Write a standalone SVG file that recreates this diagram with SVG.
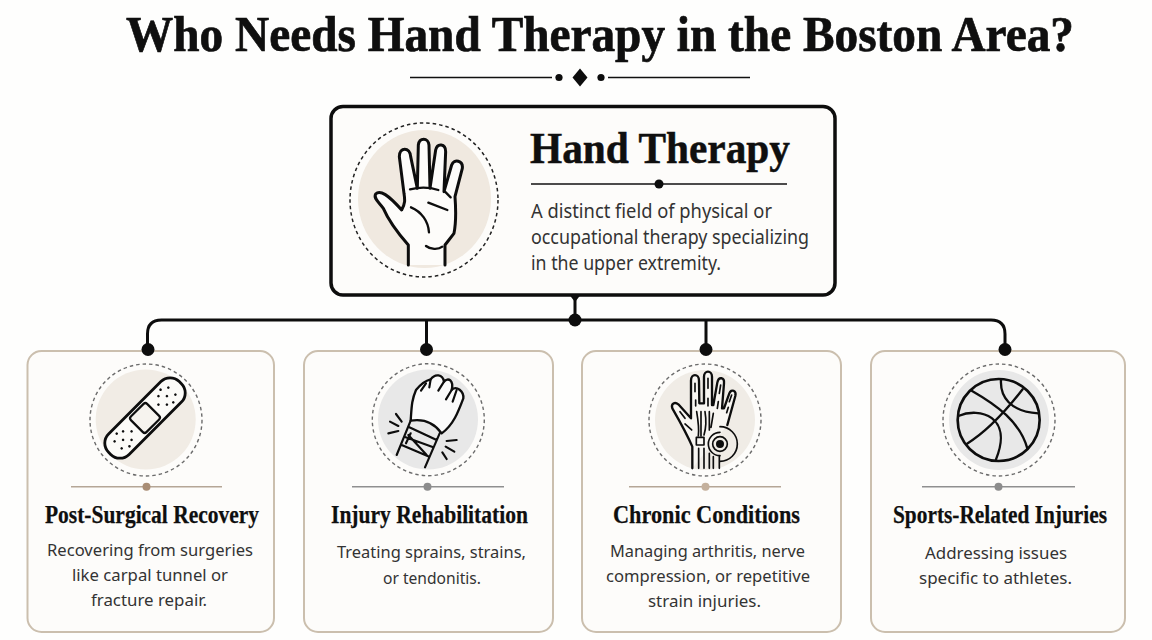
<svg xmlns="http://www.w3.org/2000/svg" width="1152" height="640" viewBox="0 0 1152 640">
<style>
.serif{font-family:"Liberation Serif","Times New Roman",serif;font-weight:700;fill:#0f0f0f}
.ct{font-size:25px;stroke:#0f0f0f;stroke-width:.25}
.body{font-family:"Noto Sans","Open Sans",sans-serif;fill:#333}
.b{font-size:17px}
.card{fill:#fdfcfa;stroke:#cbbfae;stroke-width:2}
.dash{fill:none;stroke:#6b6b6b;stroke-width:1.4;stroke-dasharray:3.5 3}
.ink{fill:none;stroke:#0d0d0d;stroke-linecap:round;stroke-linejoin:round}
.conn{fill:none;stroke:#0d0d0d;stroke-width:3}
.dot{fill:#0d0d0d}
.rule{stroke:#b5a696;stroke-width:1.6}
.rule2{stroke:#8f8f8f;stroke-width:1.6}
</style>
<rect width="1152" height="640" fill="#fefefd"/>
<g id="title">
<text class="serif" x="126" y="51" font-size="50" stroke="#0f0f0f" stroke-width=".7" textLength="948" lengthAdjust="spacingAndGlyphs">Who Needs Hand Therapy in the Boston Area?</text>
<path d="M410 77.500H552M608 77.500H750" stroke="#111" stroke-width="1.600"/>
<circle class="dot" cx="559" cy="77.500" r="3.600"/><circle class="dot" cx="601" cy="77.500" r="3.600"/>
<path class="dot" d="M580 68.500L587.500 77.500L580 86.500L572.500 77.500Z"/>
</g>
<g id="node-hand-therapy">
<rect x="331" y="106.500" width="504" height="188.500" rx="12" fill="#fdfcfa" stroke="#0d0d0d" stroke-width="3.500"/>
<ellipse cx="424.500" cy="199" rx="66.500" ry="69" fill="#f0e9e0"/>
<ellipse cx="424" cy="200" rx="74" ry="77" fill="none" stroke="#222" stroke-width="1.500" stroke-dasharray="3.500 3"/>
<g transform="translate(330 100) scale(.3333)">
<path d="M235 495V435C200 395 175 360 160 325C145 305 130 295 137 282C150 268 175 285 215 330C226 310 225 300 222 280L208 170C208 140 240 140 242 170L262 265L265 135C268 112 295 112 297 135L300 265L317 150C322 128 347 130 347 155L342 275L365 195C372 175 400 182 397 205L375 290C378 330 378 370 372 400L345 435V495" fill="#fdfcfa" stroke="#0d0d0d" stroke-width="9" stroke-linejoin="round" stroke-linecap="round"/>
<path class="ink" stroke-width="7" d="M240 268C265 262 300 262 325 270M345 275L362 292M295 308L352 330M243 322C275 335 295 365 297 397M288 438C300 448 325 450 337 440"/>
</g>
<text class="serif" x="530" y="163" font-size="44" stroke="#0f0f0f" stroke-width=".5" textLength="260" lengthAdjust="spacingAndGlyphs">Hand Therapy</text>
<path d="M531 184H787" stroke="#111" stroke-width="1.600"/>
<circle class="dot" cx="659" cy="184" r="4.500"/>
<text class="body" x="531" y="218" font-size="19" textLength="241" lengthAdjust="spacingAndGlyphs">A distinct field of physical or</text>
<text class="body" x="531" y="244" font-size="19" textLength="278" lengthAdjust="spacingAndGlyphs">occupational therapy specializing</text>
<text class="body" x="531" y="270" font-size="19" textLength="190" lengthAdjust="spacingAndGlyphs">in the upper extremity.</text>
</g>
<g id="node-post-surgical">
<rect class="card" x="27.500" y="351" width="246.500" height="281" rx="14"/>
<circle cx="145.700" cy="419.500" r="50" fill="#f1ece5"/>
<circle class="dash" cx="146" cy="420" r="56"/>
<g transform="translate(145 418) rotate(-45)">
<rect x="-50" y="-14.500" width="100" height="29" rx="13" fill="#fcfbf8" stroke="#0d0d0d" stroke-width="2.800"/>
<rect x="-11.500" y="-11" width="23" height="22" rx="2.500" fill="#f6f3ee" stroke="#0d0d0d" stroke-width="2.200"/>
<g class="dot">
<circle cx="-38" cy="-5" r="1.300"/><circle cx="-38" cy="5" r="1.300"/><circle cx="-31" cy="0" r="1.300"/><circle cx="-25" cy="-6" r="1.300"/><circle cx="-25" cy="6" r="1.300"/><circle cx="-19" cy="0" r="1.300"/><circle cx="-31" cy="-9" r="1.300"/><circle cx="-31" cy="9" r="1.300"/>
<circle cx="38" cy="-5" r="1.300"/><circle cx="38" cy="5" r="1.300"/><circle cx="31" cy="0" r="1.300"/><circle cx="25" cy="-6" r="1.300"/><circle cx="25" cy="6" r="1.300"/><circle cx="19" cy="0" r="1.300"/><circle cx="31" cy="-9" r="1.300"/><circle cx="31" cy="9" r="1.300"/>
</g>
</g>
<path class="rule" d="M71 486.700H222"/>
<circle cx="146.500" cy="486.700" r="4" fill="#a98d75"/>
<text class="serif ct" x="45" y="523" textLength="214" lengthAdjust="spacingAndGlyphs">Post-Surgical Recovery</text>
<text class="body b" x="47" y="556" textLength="206" lengthAdjust="spacingAndGlyphs">Recovering from surgeries</text>
<text class="body b" x="72" y="581" textLength="156" lengthAdjust="spacingAndGlyphs">like carpal tunnel or</text>
<text class="body b" x="91" y="606" textLength="116" lengthAdjust="spacingAndGlyphs">fracture repair.</text>
</g>
<g id="node-injury">
<rect class="card" x="304" y="351" width="249" height="281" rx="14"/>
<circle cx="428" cy="419.500" r="50" fill="#e8e8e8"/>
<circle class="dash" cx="428.300" cy="419.700" r="56"/>
<g transform="translate(340 350) scale(.3333)">
<path d="M212 212C215 170 215 150 228 120C240 105 255 92 272 88C285 70 308 72 312 95C325 80 342 92 335 120C350 105 372 125 370 145C355 185 340 225 305 250C285 222 255 205 212 212Z" fill="#fbfbfb" stroke="#0d0d0d" stroke-width="7" stroke-linejoin="round" stroke-linecap="round"/>
<path class="ink" stroke-width="6.500" d="M212 212L170 315M300 248L255 352M243 122L258 100M272 88L268 112M312 95L295 122M335 120L318 148M350 120L338 155M208 232L290 270M197 262L280 292M185 285L268 320M212 250L198 280M205 255L260 315M168 192L185 215M150 215L175 228M145 250L175 243M320 273L350 270M317 290L343 305M307 307L320 327"/>
</g>
<path class="rule2" d="M352 486.700H504"/>
<circle cx="427.500" cy="486.700" r="4" fill="#8c8c8c"/>
<text class="serif ct" x="331" y="523" textLength="197" lengthAdjust="spacingAndGlyphs">Injury Rehabilitation</text>
<text class="body b" x="337" y="558" textLength="189" lengthAdjust="spacingAndGlyphs">Treating sprains, strains,</text>
<text class="body b" x="383" y="584" textLength="98" lengthAdjust="spacingAndGlyphs">or tendonitis.</text>
</g>
<g id="node-chronic">
<rect class="card" x="582" y="351" width="259" height="281" rx="14"/>
<circle cx="705" cy="420" r="50" fill="#f0ece6"/>
<circle class="dash" cx="705" cy="420" r="56"/>
<g transform="translate(630 350) scale(.3333)">
<path d="M187 355V290C170 250 150 215 127 175C122 160 135 155 145 163L183 205V92C183 70 207 70 207 92L208 160H222V80C222 60 246 60 246 80V165H250L262 98C266 78 284 82 282 100L276 175H282L298 130C304 115 320 122 316 138L292 225" fill="#f8f6f2" stroke="#0d0d0d" stroke-width="7" stroke-linejoin="round" stroke-linecap="round"/>
<path class="ink" stroke-width="5" d="M195 100V125M234 85V115M272 105L268 130M305 135L298 155M197 150V168M234 145V168M265 155L262 175M295 172L290 188M150 185L165 205M165 222L185 240M200 185C205 215 208 235 205 258M213 185V258M225 185C230 215 228 235 222 255M238 185V240M250 190L243 232M206 295V355M222 295V355M238 310V355M250 320V355M268 320V355"/>
<path d="M199 262H222V285H199Z" fill="#f8f6f2" stroke="#0d0d0d" stroke-width="5" stroke-linejoin="round"/>
<circle cx="270" cy="282" r="12" class="dot"/>
<circle cx="270" cy="282" r="22" fill="none" stroke="#0d0d0d" stroke-width="5"/>
<path class="ink" stroke-width="5" d="M270 247A35 35 0 1 0 270 317M270 230A52 52 0 1 1 270 334"/>
</g>
<path class="rule" d="M629 486.700H781"/>
<circle cx="705.500" cy="486.700" r="4" fill="#c4b09c"/>
<text class="serif ct" x="613" y="523" textLength="187" lengthAdjust="spacingAndGlyphs">Chronic Conditions</text>
<text class="body b" x="610" y="557" textLength="195" lengthAdjust="spacingAndGlyphs">Managing arthritis, nerve</text>
<text class="body b" x="606" y="582" textLength="204" lengthAdjust="spacingAndGlyphs">compression, or repetitive</text>
<text class="body b" x="648" y="607" textLength="113" lengthAdjust="spacingAndGlyphs">strain injuries.</text>
</g>
<g id="node-sports">
<rect class="card" x="871" y="351" width="254" height="281" rx="14"/>
<circle cx="999" cy="420" r="50" fill="#e8e8e8"/>
<circle class="dash" cx="999" cy="420" r="56"/>
<g transform="translate(920 350) scale(.3333)">
<circle cx="236" cy="210" r="123" fill="#e8e8e8" stroke="#0d0d0d" stroke-width="8"/>
<path class="ink" stroke-width="7" d="M155 122C230 165 300 215 322 295M140 282C200 245 260 180 308 118M243 90C240 140 270 185 355 190M115 198C180 170 280 200 228 328"/>
</g>
<path class="rule2" d="M922 486.700H1075"/>
<circle cx="998.500" cy="486.700" r="4" fill="#8c8c8c"/>
<text class="serif ct" x="893" y="523" textLength="214" lengthAdjust="spacingAndGlyphs">Sports-Related Injuries</text>
<text class="body b" x="925" y="559" textLength="142" lengthAdjust="spacingAndGlyphs">Addressing issues</text>
<text class="body b" x="919" y="584" textLength="153" lengthAdjust="spacingAndGlyphs">specific to athletes.</text>
</g>
<g id="connectors">
<path class="conn" d="M575 295V320M147.500 349V334Q147.500 320 161.500 320H991Q1005 320 1005 334V349M426.500 320V349M706 320V349"/>
<path class="dot" d="M569.500 295H580.500L575 302Z"/>
<circle class="dot" cx="575" cy="320" r="6.500"/>
<circle class="dot" cx="148" cy="349.500" r="6.500"/><circle class="dot" cx="426.500" cy="349.500" r="6.500"/><circle class="dot" cx="706" cy="349.500" r="6.500"/><circle class="dot" cx="1005" cy="349.500" r="6.500"/>
</g>
</svg>
